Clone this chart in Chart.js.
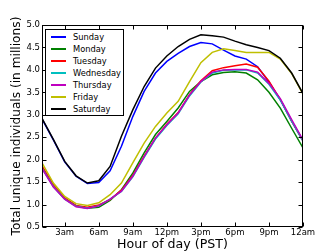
<!DOCTYPE html>
<html>
<head>
<meta charset="utf-8">
<script src="https://cdn.jsdelivr.net/npm/chart.js@4.4.1/dist/chart.umd.min.js"></script>
<style>
  html, body { margin: 0; padding: 0; background: #fff; }
  #wrap { position: relative; width: 336px; height: 252px; }
  canvas { display: block; }
  #legend {
    position: absolute; left: 45px; top: 29px; width: 79px; height: 87px;
    border: 1px solid #000; background: #fff; box-sizing: border-box;
    font-family: "DejaVu Sans", sans-serif; font-size: 8.3px; color: #000;
    padding-top: 1px;
  }
  .row { position: relative; height: 12px; line-height: 12px; }
  .row .ln { position: absolute; left: 5px; top: 5px; width: 15px; height: 2px; }
  .row .tx { position: absolute; left: 27px; top: 0; white-space: nowrap; }
</style>
</head>
<body>
<div id="wrap">
  <canvas id="c" width="336" height="252"></canvas>
  <div id="legend"></div>
</div>
<script>
const hours = [1,2,3,4,5,6,7,8,9,10,11,12,13,14,15,16,17,18,19,20,21,22,23,24];
const seriesNames = ["Sunday","Monday","Tuesday","Wednesday","Thursday","Friday","Saturday"];
const sunday    = [2.91,2.44,1.95,1.63,1.47,1.49,1.75,2.30,2.96,3.52,3.93,4.19,4.37,4.52,4.61,4.58,4.44,4.31,4.24,4.07,3.73,3.33,2.86,2.42];
const monday    = [1.82,1.41,1.13,0.97,0.92,0.94,1.09,1.33,1.70,2.15,2.56,2.85,3.15,3.52,3.74,3.89,3.94,3.96,3.93,3.78,3.50,3.15,2.70,2.26];
const tuesday   = [1.86,1.44,1.15,0.98,0.94,0.99,1.11,1.32,1.65,2.08,2.48,2.79,3.05,3.45,3.76,3.98,4.05,4.09,4.13,4.06,3.75,3.34,2.86,2.42];
const wednesday = [1.81,1.40,1.12,0.96,0.92,0.97,1.12,1.29,1.62,2.05,2.46,2.76,3.02,3.42,3.73,3.93,3.99,4.00,4.00,3.93,3.68,3.33,2.86,2.42];
const thursday  = [1.80,1.39,1.12,0.95,0.91,0.97,1.12,1.30,1.63,2.07,2.48,2.78,3.04,3.44,3.74,3.95,4.00,4.01,4.01,3.95,3.70,3.36,2.89,2.44];
const friday    = [1.93,1.48,1.18,1.02,0.98,1.04,1.22,1.48,1.93,2.37,2.74,3.04,3.30,3.74,4.16,4.39,4.47,4.43,4.39,4.39,4.39,4.24,3.92,3.46];
const saturday  = [2.92,2.45,1.96,1.64,1.48,1.53,1.85,2.52,3.11,3.63,4.04,4.31,4.52,4.68,4.78,4.76,4.73,4.64,4.56,4.50,4.43,4.26,3.93,3.47];
const seriesColors = ["#0000ff","#008000","#ff0000","#00bfbf","#bf00bf","#bfbf00","#000000"];
const xTickHours = [3,6,9,12,15,18,21,24];
const xTickLabels = ["3am","6am","9am","12pm","3pm","6pm","9pm","12am"];
const yTicks = [0.5,1.0,1.5,2.0,2.5,3.0,3.5,4.0,4.5,5.0];
const xTitle = "Hour of day (PST)";
const yTitle = "Total unique individuals (in millions)";

const allSeries = [sunday, monday, tuesday, wednesday, thursday, friday, saturday];

const datasets = allSeries.map((vals, i) => ({
  label: seriesNames[i],
  data: hours.map((h, j) => ({x: h, y: vals[j]})),
  borderColor: seriesColors[i],
  backgroundColor: seriesColors[i],
  borderWidth: 1.5,
  pointRadius: 0,
  tension: 0,
  fill: false,
  order: seriesNames.length - 1 - i
}));

const font = "'DejaVu Sans', sans-serif";

const framePlugin = {
  id: 'frame',
  afterDatasetsDraw(chart) {
    const {ctx, chartArea: a, scales: {x, y}} = chart;
    ctx.save();
    ctx.strokeStyle = '#000';
    ctx.lineWidth = 1;
    const L = Math.round(a.left) + 0.5, R = Math.round(a.right) - 0.5;
    const T = Math.round(a.top) + 0.5, B = Math.round(a.bottom) - 0.5;
    ctx.strokeRect(L, T, R - L, B - T);
    ctx.beginPath();
    yTicks.forEach(v => {
      const py = Math.round(y.getPixelForValue(v)) + 0.5;
      ctx.moveTo(L, py); ctx.lineTo(L + 4, py);
      ctx.moveTo(R, py); ctx.lineTo(R - 4, py);
    });
    xTickHours.forEach(h => {
      const px = Math.round(x.getPixelForValue(h)) + 0.5;
      ctx.moveTo(px, B); ctx.lineTo(px, B - 4);
      ctx.moveTo(px, T); ctx.lineTo(px, T + 4);
    });
    ctx.stroke();
    ctx.restore();
  }
};

new Chart(document.getElementById('c'), {
  type: 'line',
  data: { datasets },
  plugins: [framePlugin],
  options: {
    responsive: false,
    animation: false,
    devicePixelRatio: 1,
    layout: { padding: { top: 25, right: 33, left: 0, bottom: 0 } },
    plugins: { legend: { display: false }, tooltip: { enabled: false } },
    scales: {
      x: {
        type: 'linear',
        min: 1, max: 24,
        afterFit(s) { s.height = 25; },
        afterBuildTicks(s) { s.ticks = xTickHours.map(v => ({value: v})); },
        ticks: {
          autoSkip: false, maxRotation: 0,
          padding: 1,
          font: { family: font, size: 8.5 },
          color: '#000',
          callback: (v) => xTickLabels[xTickHours.indexOf(v)]
        },
        grid: { display: false, drawTicks: false },
        border: { display: false },
        title: {
          display: true, text: xTitle, color: '#000',
          font: { family: font, size: 12.6 },
          padding: { top: 0, bottom: 0 }
        }
      },
      y: {
        type: 'linear',
        min: 0.5, max: 5.0,
        afterFit(s) { s.width = 42; },
        afterBuildTicks(s) { s.ticks = yTicks.map(v => ({value: v})); },
        ticks: {
          padding: 2,
          font: { family: font, size: 8.5 },
          color: '#000',
          callback: (v) => Number(v).toFixed(1)
        },
        grid: { display: false, drawTicks: false },
        border: { display: false },
        title: {
          display: true, text: yTitle, color: '#000',
          font: { family: font, size: 12.2 },
          padding: { top: 10, bottom: 0 }
        }
      }
    }
  }
});

const legend = document.getElementById('legend');
seriesNames.forEach((name, i) => {
  const row = document.createElement('div');
  row.className = 'row';
  const ln = document.createElement('span');
  ln.className = 'ln';
  ln.style.background = seriesColors[i];
  const tx = document.createElement('span');
  tx.className = 'tx';
  tx.textContent = name;
  row.appendChild(ln); row.appendChild(tx);
  legend.appendChild(row);
});
</script>
</body>
</html>
